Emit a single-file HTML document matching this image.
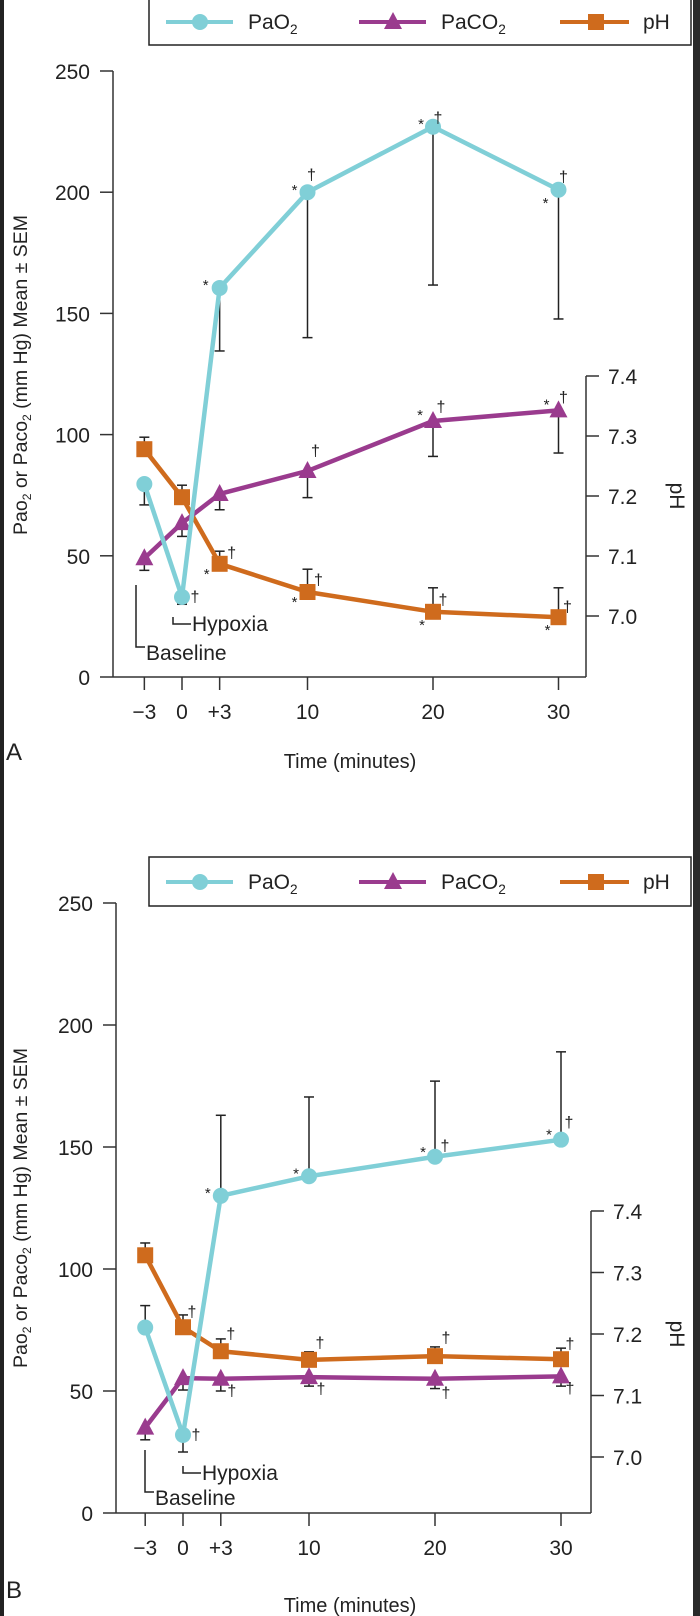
<!DOCTYPE html>
<html><head><meta charset="utf-8">
<style>
html,body{margin:0;padding:0;background:#fff;}
svg{display:block;font-family:"Liberation Sans",Arial,sans-serif;}
</style></head>
<body>
<svg id="fig" width="700" height="1616" viewBox="0 0 700 1616" xmlns="http://www.w3.org/2000/svg">
<rect x="0" y="0" width="700" height="1616" fill="#fff"/>
<rect x="0" y="0" width="4" height="1616" fill="#222"/>
<rect x="693" y="0" width="7" height="1616" fill="#2a2a2a"/>
</svg>
<script>
// ---- shared categories ----
const timeLabels = ["\u22123","0","+3","10","20","30"];
const times = [-3,0,3,10,20,30];
const leftTicks = [0,50,100,150,200,250];
const phTicks = [7.0,7.1,7.2,7.3,7.4];

// ---- Panel A data ----
const aPaO2 = [79.6,33,160.5,200,227,201];
const aPaO2Err = [71,30,134.5,140,161.7,147.7];
const aPaCO2 = [49,63.5,75.5,85,105.6,110];
const aPaCO2Err = [44,58,69,74,91,92.4];
const aPH = [7.278,7.198,7.087,7.04,7.007,6.998];
const aPHErr = [7.298,7.218,7.108,7.078,7.047,7.047];

// ---- Panel B data ----
const bPaO2 = [76,32,130,138,146,153];
const bPaO2Err = [85,25,163,170.5,177,189];
const bPaCO2 = [35,55.3,55,55.7,55,56];
const bPaCO2Err = [30,50.4,50,52,51,52];
const bPH = [7.328,7.211,7.172,7.158,7.164,7.159];
const bPHErr = [7.348,7.231,7.192,7.171,7.179,7.177];

const NS="http://www.w3.org/2000/svg";
const svg=document.getElementById('fig');
const C_O2="#80cfd7", C_CO2="#9a3b8e", C_PH="#cf6b1d", INK="#333";

function mk(tag,attrs,parent){const e=document.createElementNS(NS,tag);for(const k in attrs)e.setAttribute(k,attrs[k]);(parent||svg).appendChild(e);return e;}
function txt(s,x,y,size,anchor,parent){const t=mk('text',{x:x,y:y,'font-size':size,'text-anchor':anchor||'start',fill:'#222'},parent);t.textContent=s;return t;}

function circle(g,x,y){mk('circle',{cx:x,cy:y,r:8,fill:C_O2},g);}
function tri(g,x,y){mk('polygon',{points:`${x},${y-10} ${x-9},${y+7} ${x+9},${y+7}`,fill:C_CO2},g);}
function sq(g,x,y){mk('rect',{x:x-8,y:y-8,width:16,height:16,fill:C_PH},g);}

function subLabel(g,main,sub,x,y,size){
  const t=mk('text',{x:x,y:y,'font-size':size,fill:'#222'},g);
  t.appendChild(document.createTextNode(main));
  const ts=document.createElementNS(NS,'tspan');ts.setAttribute('font-size',size*0.65);ts.setAttribute('dy',5);ts.textContent=sub;t.appendChild(ts);
  return t;
}

function panel(P){
  const g=mk('g',{});
  
  
  const xs=t=>P.x0+P.xk*t;
  const ys=v=>P.y0-P.yk*v;
  const yp=v=>P.p7-(v-7.0)*P.pk;

  // legend
  const lg=mk('g',{},g);
  
  
  mk('rect',{x:149,y:P.legTop,width:542,height:P.legBot-P.legTop,fill:'#fff',stroke:'#222','stroke-width':1.5},lg);
  const ly=P.legY;
  const e1=mk('g',{},lg);
  mk('line',{x1:166,y1:ly,x2:233,y2:ly,stroke:C_O2,'stroke-width':4},e1);circle(e1,200,ly);
  subLabel(e1,'PaO','2',248,ly+7,21);
  const e2=mk('g',{},lg);
  mk('line',{x1:359,y1:ly,x2:426,y2:ly,stroke:C_CO2,'stroke-width':4},e2);tri(e2,393,ly);
  subLabel(e2,'PaCO','2',441,ly+7,21);
  const e3=mk('g',{},lg);
  mk('line',{x1:560,y1:ly,x2:629,y2:ly,stroke:C_PH,'stroke-width':4},e3);sq(e3,596,ly);
  txt('pH',643,ly+7,21,'start',e3);

  // axes
  const ax=mk('g',{},g);
  
  
  mk('line',{x1:P.xl,y1:ys(250),x2:P.xl,y2:ys(0),stroke:INK,'stroke-width':1.5},ax);
  leftTicks.forEach(v=>{
    mk('line',{x1:P.xl-13,y1:ys(v),x2:P.xl,y2:ys(v),stroke:INK,'stroke-width':1.5},ax);
    txt(String(v),P.xl-23,ys(v)+8,21,'end',ax);
  });
  const bx=mk('g',{},g);
  
  
  mk('line',{x1:P.xl,y1:ys(0),x2:P.xr,y2:ys(0),stroke:INK,'stroke-width':1.5},bx);
  times.forEach((t,i)=>{
    mk('line',{x1:xs(t),y1:ys(0),x2:xs(t),y2:ys(0)+13,stroke:INK,'stroke-width':1.5},bx);
    txt(timeLabels[i],xs(t),P.xlabY,21,'middle',bx);
  });
  const xt=txt('Time (minutes)',350,P.timeY,20,'middle',g);
  
  
  const pl=txt(P.letter,6,P.letterY,24,'start',g);
  
  

  const rx=mk('g',{},g);
  
  
  mk('line',{x1:P.xr,y1:yp(7.4),x2:P.xr,y2:ys(0),stroke:INK,'stroke-width':1.5},rx);
  phTicks.forEach(v=>{
    mk('line',{x1:P.xr,y1:yp(v),x2:P.xr+13,y2:yp(v),stroke:INK,'stroke-width':1.5},rx);
    txt(v.toFixed(1),P.xr+22,yp(v)+8,21,'start',rx);
  });
  const pht=txt('pH',0,0,21,'middle',rx);
  pht.setAttribute('transform',`translate(670,${yp(7.2)}) rotate(90)`);

  // y title
  const yt=mk('text',{transform:`translate(27,${P.titleY}) rotate(-90)`,'font-size':19.5,'text-anchor':'middle',fill:'#222'},g);
  
  
  yt.innerHTML='Pao<tspan font-size="12" dy="4">2</tspan><tspan dy="-4"> or Paco</tspan><tspan font-size="12" dy="4">2</tspan><tspan dy="-4"> (mm Hg) Mean ± SEM</tspan>';

  // annotation brackets
  const an=mk('g',{},g);
  
  
  const B=P.base, H=P.hyp;
  mk('polyline',{points:`${B.x},${B.y1} ${B.x},${B.y2} ${B.x+9},${B.y2}`,fill:'none',stroke:'#222','stroke-width':1.5},an);
  txt('Baseline',B.x+10,B.y2+13,21,'start',an);
  mk('polyline',{points:`${H.x},${H.y1} ${H.x},${H.y2} ${H.x+18},${H.y2}`,fill:'none',stroke:'#222','stroke-width':1.5},an);
  txt('Hypoxia',H.x+19,H.y2+7,21,'start',an);

  // error bars
  function errs(vals,err,scale,name){
    const eg=mk('g',{},g);
    
    
    vals.forEach((v,i)=>{
      const x=xs(times[i]);
      mk('line',{x1:x,y1:scale(v),x2:x,y2:scale(err[i]),stroke:'#222','stroke-width':1.5},eg);
      mk('line',{x1:x-5,y1:scale(err[i]),x2:x+5,y2:scale(err[i]),stroke:'#222','stroke-width':1.5},eg);
    });
  }
  errs(P.o2,P.o2e,ys,'pao2-error-bars');
  errs(P.co2,P.co2e,ys,'paco2-error-bars');
  errs(P.ph,P.phe,yp,'ph-error-bars');

  function series(vals,scale,color,marker,name){
    const sg=mk('g',{},g);
    
    
    mk('polyline',{points:vals.map((v,i)=>`${xs(times[i])},${scale(v)}`).join(' '),fill:'none',stroke:color,'stroke-width':4.5,'stroke-linejoin':'round'},sg);
    vals.forEach((v,i)=>marker(sg,xs(times[i]),scale(v)));
  }
  series(P.ph,yp,C_PH,sq,'ph-series');
  series(P.co2,ys,C_CO2,tri,'paco2-series');
  series(P.o2,ys,C_O2,circle,'pao2-series');

  // significance marks
  const sm=mk('g',{},g);
  
  
  P.marks.forEach(m=>{
    const [sym,ser,i,dx,dy]=m;
    const arr=ser==='o'?P.o2:ser==='c'?P.co2:P.ph;
    const sc=ser==='p'?yp:ys;
    txt(sym,xs(times[i])+dx,sc(arr[i])+dy,sym==='*'?15:16,'middle',sm);
  });
}

panel({name:'panel-a',letter:'A',x0:182,xk:12.55,y0:677,yk:2.424,p7:616,pk:600,xl:113,xr:586,
  legTop:-4,legBot:45,legY:22,xlabY:719,timeY:768,letterY:760,titleY:375,
  base:{x:136,y1:585,y2:647},hyp:{x:173,y1:617,y2:624},
  o2:aPaO2,o2e:aPaO2Err,co2:aPaCO2,co2e:aPaCO2Err,ph:aPH,phe:aPHErr,
  marks:[['\u2020','o',1,13,5],['*','o',2,-14,2],['*','o',3,-13,3],['\u2020','o',3,4,-12],['*','o',4,-12,2],['\u2020','o',4,5,-4],['*','o',5,-13,18],['\u2020','o',5,5,-8],
         ['\u2020','c',3,8,-15],['*','c',4,-13,-1],['\u2020','c',4,8,-9],['*','c',5,-12,-1],['\u2020','c',5,5,-8],
         ['*','p',2,-13,15],['\u2020','p',2,12,-6],['*','p',3,-13,15],['\u2020','p',3,11,-7],['*','p',4,-11,18],['\u2020','p',4,10,-7],['*','p',5,-11,18],['\u2020','p',5,9,-5]]
});

panel({name:'panel-b',letter:'B',x0:183,xk:12.6,y0:1513,yk:2.44,p7:1457,pk:615,xl:116,xr:591,
  legTop:857,legBot:906,legY:882,xlabY:1555,timeY:1612,letterY:1598,titleY:1208,
  base:{x:145,y1:1450,y2:1492},hyp:{x:183,y1:1466,y2:1473},
  o2:bPaO2,o2e:bPaO2Err,co2:bPaCO2,co2e:bPaCO2Err,ph:bPH,phe:bPHErr,
  marks:[['\u2020','o',1,13,5],['*','o',2,-13,2],['*','o',3,-13,2],['*','o',4,-12,0],['\u2020','o',4,10,-6],['*','o',5,-12,0],['\u2020','o',5,8,-12],
         ['\u2020','c',2,11,17],['\u2020','c',3,12,17],['\u2020','c',4,11,19],['\u2020','c',5,9,17],
         ['\u2020','p',1,9,-10],['\u2020','p',2,10,-12],['\u2020','p',3,11,-12],['\u2020','p',4,11,-13],['\u2020','p',5,9,-10]]
});
</script>
</body></html>
